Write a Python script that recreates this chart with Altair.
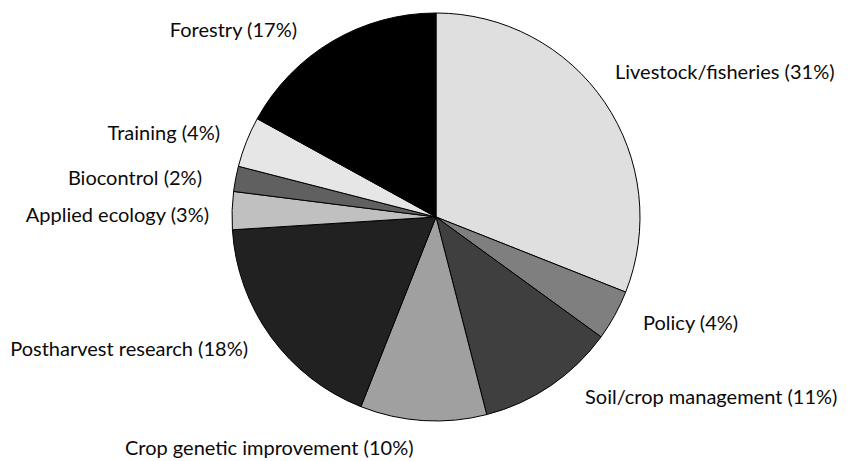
import altair as alt
import pandas as pd

# Research areas, clockwise from 12 o'clock
categories = [
    "Livestock/fisheries",
    "Policy",
    "Soil/crop management",
    "Crop genetic improvement",
    "Postharvest research",
    "Applied ecology",
    "Biocontrol",
    "Training",
    "Forestry",
]
shares = [31, 4, 11, 10, 18, 3, 2, 4, 17]
greys = ["#dfdfdf", "#7f7f7f", "#3f3f3f", "#a0a0a0", "#212121",
         "#c0c0c0", "#606060", "#e6e6e6", "#000000"]

# Label layout: anchor point in pixels and text alignment
label_anchor = {
    "Livestock/fisheries": (615, 73, "left"),
    "Policy": (643, 324, "left"),
    "Soil/crop management": (585, 398, "left"),
    "Crop genetic improvement": (125, 449, "left"),
    "Postharvest research": (248, 350, "right"),
    "Applied ecology": (209, 216, "right"),
    "Biocontrol": (202, 179, "right"),
    "Training": (220, 134, "right"),
    "Forestry": (297, 31, "right"),
}

W, H = 850, 461
CX, CY, R = 436, 217, 204
FONT = "Lato"
FSIZE = 20

pie_df = pd.DataFrame({
    "category": categories,
    "share": shares,
    "idx": list(range(len(categories))),
})

lab_df = pd.DataFrame({
    "text": [f"{c} ({s}%)" for c, s in zip(categories, shares)],
    "lx": [label_anchor[c][0] for c in categories],
    "ly": [label_anchor[c][1] for c in categories],
    "al": [label_anchor[c][2] for c in categories],
})

pie = alt.Chart(pie_df).mark_arc(
    outerRadius=R, stroke="#000000", strokeWidth=1
).encode(
    theta=alt.Theta("share:Q", stack=True),
    order=alt.Order("idx:Q", sort="ascending"),
    color=alt.Color("category:N",
                    scale=alt.Scale(domain=categories, range=greys),
                    legend=None),
    x=alt.value(CX),
    y=alt.value(CY),
)

def label_layer(align):
    return alt.Chart(lab_df).transform_filter(
        alt.datum.al == align
    ).mark_text(
        align=align, baseline="middle", font=FONT, fontSize=FSIZE,
        color="#0a0a0a"
    ).encode(
        x=alt.X("lx:Q", scale=None, axis=None),
        y=alt.Y("ly:Q", scale=None, axis=None),
        text="text:N",
    )

chart = alt.layer(pie, label_layer("left"), label_layer("right")).properties(
    width=W, height=H, padding=0, autosize=alt.AutoSizeParams(type="none"),
    background="#ffffff",
).configure_view(stroke=None)

chart.save("out.html", embed_options={"renderer": "svg", "actions": False})
